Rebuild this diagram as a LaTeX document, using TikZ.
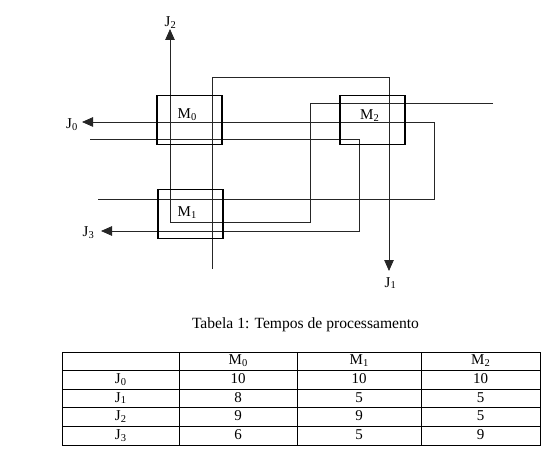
\documentclass[tikz,border=0pt]{standalone}
\usepackage{fontspec}
\setmainfont{Liberation Serif}
\usetikzlibrary{arrows.meta}
\newcommand\mysub[1]{\raisebox{-1.8pt}{\fontsize{10.5}{10.5}\selectfont #1}}
\begin{document}
\begin{tikzpicture}[x=1pt,y=-1pt,
  flow/.style={draw=black!85,line width=0.85pt},
  arr/.style={flow,-{Triangle[length=11pt,width=9.5pt]}},
  mbox/.style={draw=black,line width=1.3pt,minimum width=65pt,minimum height=49.5pt,inner sep=0pt},
  lab/.style={inner sep=0pt,anchor=base west,font=\fontsize{15}{15}\selectfont},
  cell/.style={inner sep=0pt,anchor=base,font=\fontsize{15}{15}\selectfont},
  grid/.style={draw=black,line width=0.9pt}]
\useasboundingbox (0,0) rectangle (548,454);
% connectors
\coordinate (j0s) at (98,199);
\coordinate (j0e) at (82,122);
\coordinate (j1s) at (212,269);
\coordinate (j1e) at (389,271);
\coordinate (j2s) at (493,103);
\coordinate (j2e) at (170,29);
\coordinate (j3s) at (90,139);
\coordinate (j3e) at (101,231);
\draw[arr] (j0s) -- (434,199) -- (434,122) -- (j0e);
\draw[arr] (j1s) -- (212,77) -- (389,77) -- (j1e);
\draw[arr] (j2s) -- (310,103) -- (310,222) -- (170,222) -- (j2e);
\draw[arr] (j3s) -- (359,139) -- (359,231) -- (j3e);
% machines
\node[mbox] (m0) at (189.5,120) {};
\node[mbox] (m1) at (190.5,214) {};
\node[mbox] (m2) at (372.5,120) {};
\node[lab] (m0l) at (177.5,119) {M\mysub{0}};
\node[lab] (m1l) at (177.5,216.5) {M\mysub{1}};
\node[lab] (m2l) at (360,119.3) {M\mysub{2}};
% job labels
\node[lab] (J0) at (66,129) {J\mysub{0}};
\node[lab] (J3) at (82.5,236.5) {J\mysub{3}};
\node[lab] (J2) at (164.5,26.5) {J\mysub{2}};
\node[lab] (J1) at (384.5,287) {J\mysub{1}};
% caption
\node[cell,font=\fontsize{15.6}{15.6}\selectfont] (cap) at (305.5,328.5) {Tabela 1: Tempos de processamento};
% table
\draw[grid] (62,352) rectangle (540,445);
\foreach \x in {179,297,421} \draw[grid] (\x,352) -- (\x,445);
\foreach \y in {370.7,389,407.7,426.7} \draw[grid] (62,\y) -- (540,\y);
\node[cell] (h1) at (238,364.8) {M\mysub{0}};
\node[cell] (h2) at (359,364.8) {M\mysub{1}};
\node[cell] (h3) at (480.5,364.8) {M\mysub{2}};
\node[cell] (r0) at (120.5,383.5) {J\mysub{0}};
\node[cell] (r1) at (120.5,402) {J\mysub{1}};
\node[cell] (r2) at (120.5,420.8) {J\mysub{2}};
\node[cell] (r3) at (120.5,439.5) {J\mysub{3}};
\node[cell] (c00) at (238,383.5) {10};
\node[cell] (c01) at (359,383.5) {10};
\node[cell] (c02) at (480.5,383.5) {10};
\node[cell] (c10) at (238,402) {8};
\node[cell] (c11) at (359,402) {5};
\node[cell] (c12) at (480.5,402) {5};
\node[cell] (c20) at (238,420.8) {9};
\node[cell] (c21) at (359,420.8) {9};
\node[cell] (c22) at (480.5,420.8) {5};
\node[cell] (c30) at (238,439.5) {6};
\node[cell] (c31) at (359,439.5) {5};
\node[cell] (c32) at (480.5,439.5) {9};
\end{tikzpicture}
\end{document}
